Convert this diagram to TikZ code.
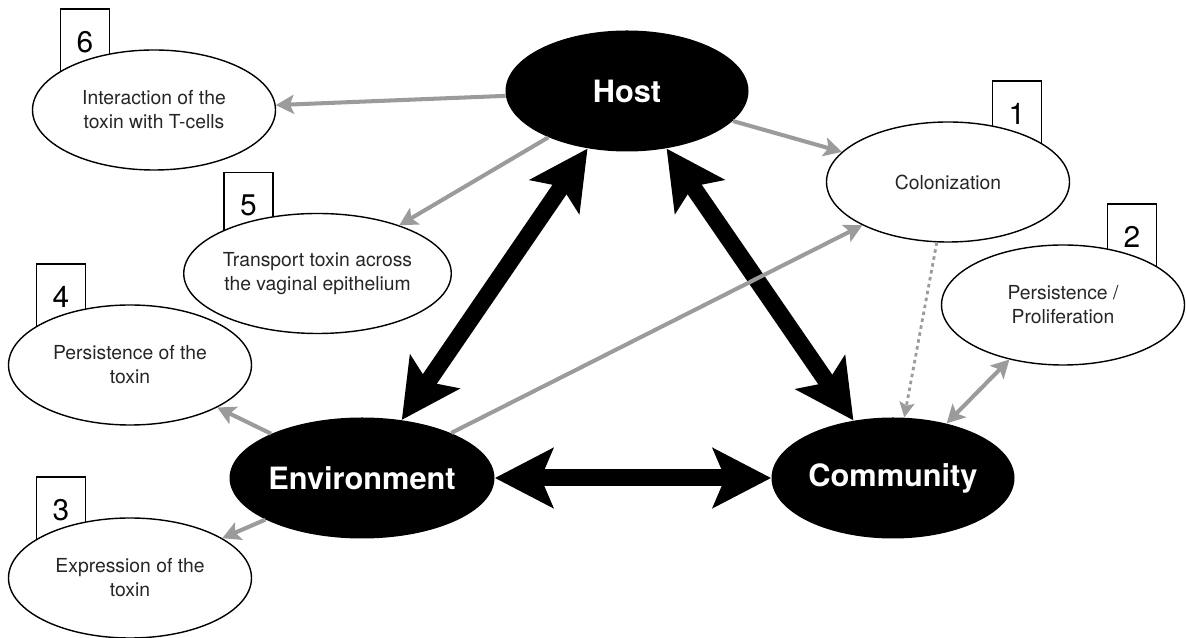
\documentclass[tikz,border=0pt]{standalone}
\usepackage{fontspec}
\setmainfont{TeX Gyre Heros}
\usetikzlibrary{arrows.meta,shapes.geometric,positioning}
\definecolor{linkgray}{RGB}{155,155,155}
\tikzset{
  hub/.style={ellipse,fill=black,text=white,minimum width=4.86cm,minimum height=2.42cm,inner sep=0pt,
    font=\fontsize{17.5}{20}\selectfont\bfseries},
  topic/.style={ellipse,draw,fill=white,line width=0.8pt,minimum width=4.86cm,minimum height=2.4cm,
    inner sep=0pt,align=center,text=black!85,font=\fontsize{11}{13.6}\selectfont},
  tag/.style={draw,line width=0.8pt,minimum width=0.98cm,minimum height=1.32cm,inner sep=0pt,
    font=\fontsize{17}{20}\selectfont},
  link/.style={linkgray,line width=2.3pt,-{Stealth[length=0.36cm,width=0.38cm,inset=0.08cm]}},
  twolink/.style={linkgray,line width=2.3pt,{Stealth[length=0.36cm,width=0.38cm,inset=0.08cm]}-{Stealth[length=0.36cm,width=0.38cm,inset=0.08cm]}},
  bond/.style={line width=0.34cm,{Stealth[length=1.16cm,width=1.18cm,inset=0.24cm]}-{Stealth[length=1.16cm,width=1.18cm,inset=0.24cm]}},
  hint/.style={linkgray,line width=1.6pt,dash pattern=on 2pt off 2pt,-{Stealth[length=0.3cm,width=0.3cm,inset=0.06cm]}}
}

\begin{document}
\begin{tikzpicture}
	\useasboundingbox (0,0) rectangle (23.72,12.76);

	\node[tag] (tag6) at (1.70,11.92) {6};
	\node[tag] (tag1) at (20.34,10.48) {1};
	\node[tag] (tag2) at (22.64,8.02) {2};
	\node[tag] (tag5) at (4.97,8.65) {5};
	\node[tag] (tag4) at (1.22,6.82) {4};
	\node[tag] (tag3) at (1.22,2.56) {3};

	\node[hub] (host) at (12.54,10.94) {Host};
	\node[hub] (env) at (7.24,3.20) {Environment};
	\node[hub] (comm) at (17.86,3.20) {Community};

	\node[topic] (tcells) at (3.08,10.56) {Interaction of the\\toxin with T-cells};
	\node[topic] (colon) at (18.96,9.12) {Colonization};
	\node[topic] (prolif) at (21.26,6.66) {Persistence /\\Proliferation};
	\node[topic] (transp) at (6.35,7.29) {Transport toxin across\\the vaginal epithelium};
	\node[topic] (persist) at (2.60,5.46) {Persistence of the\\toxin};
	\node[topic] (express) at (2.60,1.20) {Expression of the\\toxin};

	\draw[bond] (host) -- (env);
	\draw[bond] (host) -- (comm);
	\draw[bond] (env) -- (comm);

	\draw[link] (host) -- (tcells);
	\draw[link] (host) -- (colon);
	\draw[link] (host) -- (transp);
	\draw[link] (env) -- (persist);
	\draw[link] (env) -- (express);
	\draw[link] (env) -- (colon);
	\draw[hint] (colon) -- (comm);
	\draw[twolink] (comm) -- (prolif);

\end{tikzpicture}
\end{document}
